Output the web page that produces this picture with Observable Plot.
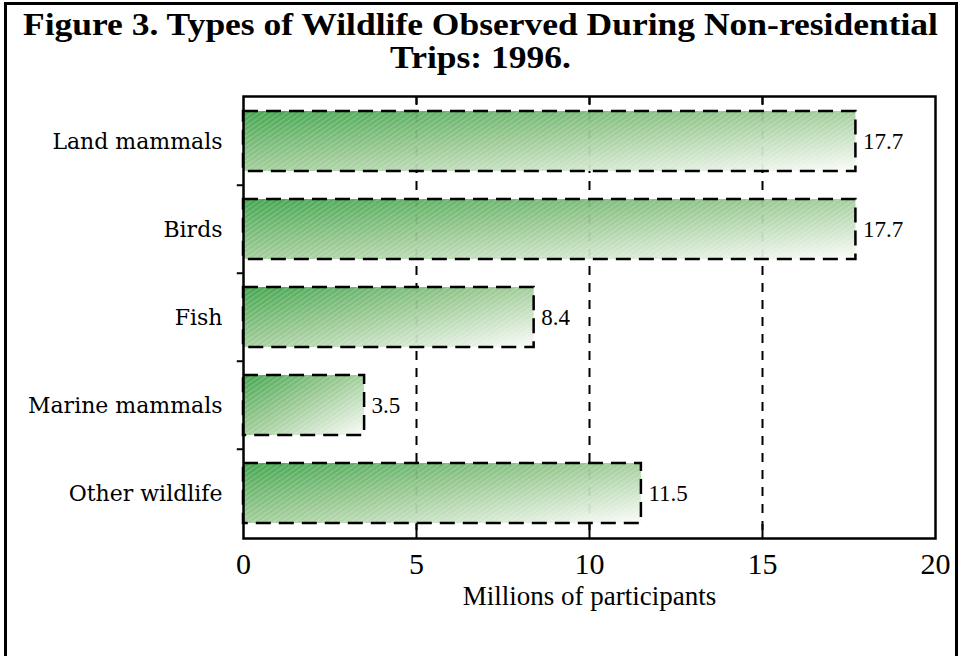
<!DOCTYPE html>
<html>
<head>
<meta charset="utf-8">
<script src="https://cdn.jsdelivr.net/npm/d3@7"></script>
<script src="https://cdn.jsdelivr.net/npm/@observablehq/plot@0.6"></script>
<style>
  html, body { margin: 0; padding: 0; background: #fff; }
  #page { position: relative; width: 961px; height: 656px; overflow: hidden; background: #fff; }
  #border { position: absolute; left: 4px; top: 2px; width: 954px; height: 720px;
            border: 3px solid #000; box-sizing: border-box; }
  #title { position: absolute; left: 0; top: 8px; width: 961px; text-align: center;
           font-family: "Liberation Serif", serif; font-weight: bold; font-size: 32px;
           line-height: 33px; color: #000; }
  #title span { display: inline-block; white-space: nowrap; transform-origin: center; }
  #chart { position: absolute; left: 0; top: 0; }
</style>
</head>
<body>
<div id="page">
  <div id="border"></div>
  <div id="title">
    <span class="tl">Figure 3. Types of Wildlife Observed During Non-residential</span><br>
    <span class="tl">Trips: 1996.</span>
  </div>
  <div id="chart"></div>
</div>
<script>
// Wildlife observed on non-residential trips, millions of participants
const categories = ["Land mammals", "Birds", "Fish", "Marine mammals", "Other wildlife"];
const values = [17.7, 17.7, 8.4, 3.5, 11.5];
const xTicks = [0, 5, 10, 15, 20];
const gridValues = [5, 10, 15];
const axisTitle = "Millions of participants";

const data = categories.map((category, i) => ({category, value: values[i]}));

const chart = Plot.plot({
  width: 961,
  height: 656,
  marginLeft: 243,
  marginRight: 26,
  marginTop: 96,
  marginBottom: 118,
  style: {background: "transparent", fontFamily: "'Liberation Serif', serif", color: "#000", overflow: "visible"},
  x: {domain: [0, 20]},
  y: {domain: categories, paddingInner: 0.32, paddingOuter: 0.16},
  marks: [
    // dashed vertical gridlines
    Plot.ruleX(gridValues, {stroke: "#000", strokeWidth: 2, strokeDasharray: "9,8"}),
    // short solid ticks inside the frame, top and bottom
    Plot.ruleX(gridValues, {stroke: "#000", strokeWidth: 2, insetBottom: 434}),
    Plot.ruleX(gridValues, {stroke: "#000", strokeWidth: 2, insetTop: 428}),
    // bars: green fade with a fine diagonal sheen and a dashed outline
    Plot.barX(data, {x: "value", y: "category", fill: "url(#fade)", fillOpacity: 0.94}),
    Plot.barX(data, {x: "value", y: "category", fill: "url(#sheen)"}),
    Plot.barX(data, {x: "value", y: "category", fill: "none", stroke: "#000", strokeWidth: 2.5, strokeDasharray: "15,8"}),
    Plot.text(data, {x: "value", y: "category", text: d => d.value.toFixed(1), textAnchor: "start", dx: 7, fontSize: 23}),
    Plot.frame({stroke: "#000", strokeWidth: 2.5}),
    Plot.axisX({ticks: xTicks, tickSize: 0, tickPadding: 14, fontSize: 30, label: null}),
    Plot.text([axisTitle], {frameAnchor: "bottom", dy: 66, fontSize: 27}),
    Plot.axisY({tickSize: 0, tickPadding: 21, fontSize: 22, fontFamily: "'DejaVu Serif', serif", label: null}),
    // tick marks between categories on the left edge
    Plot.ruleY(categories.slice(1), {y: d => d, x1: -0.18, x2: 0, dy: -44.25, stroke: "#000", strokeWidth: 2})
  ]
});

// gradient and sheen definitions used by the bar fills
const svg = d3.select(chart);
const defs = svg.insert("defs", ":first-child");
const grad = defs.append("linearGradient")
  .attr("id", "fade")
  .attr("x1", 0).attr("y1", 0).attr("x2", 1).attr("y2", 1);
grad.append("stop").attr("offset", "0").attr("stop-color", "#36a043");
grad.append("stop").attr("offset", "0.45").attr("stop-color", "#94c68c");
grad.append("stop").attr("offset", "1").attr("stop-color", "#fbfcfa");
const pat = defs.append("pattern")
  .attr("id", "sheen")
  .attr("width", 4).attr("height", 4)
  .attr("patternUnits", "userSpaceOnUse")
  .attr("patternTransform", "rotate(-35)");
pat.append("rect").attr("width", 4).attr("height", 1.2).attr("fill", "#fff").attr("fill-opacity", 0.22);

document.getElementById("chart").appendChild(chart);

// fit the title lines to the width of the first line
const lines = document.querySelectorAll("#title .tl");
const w = lines[0].getBoundingClientRect().width;
const k = 915 / w;
lines.forEach(s => s.style.transform = `scaleX(${k})`);
</script>
</body>
</html>
